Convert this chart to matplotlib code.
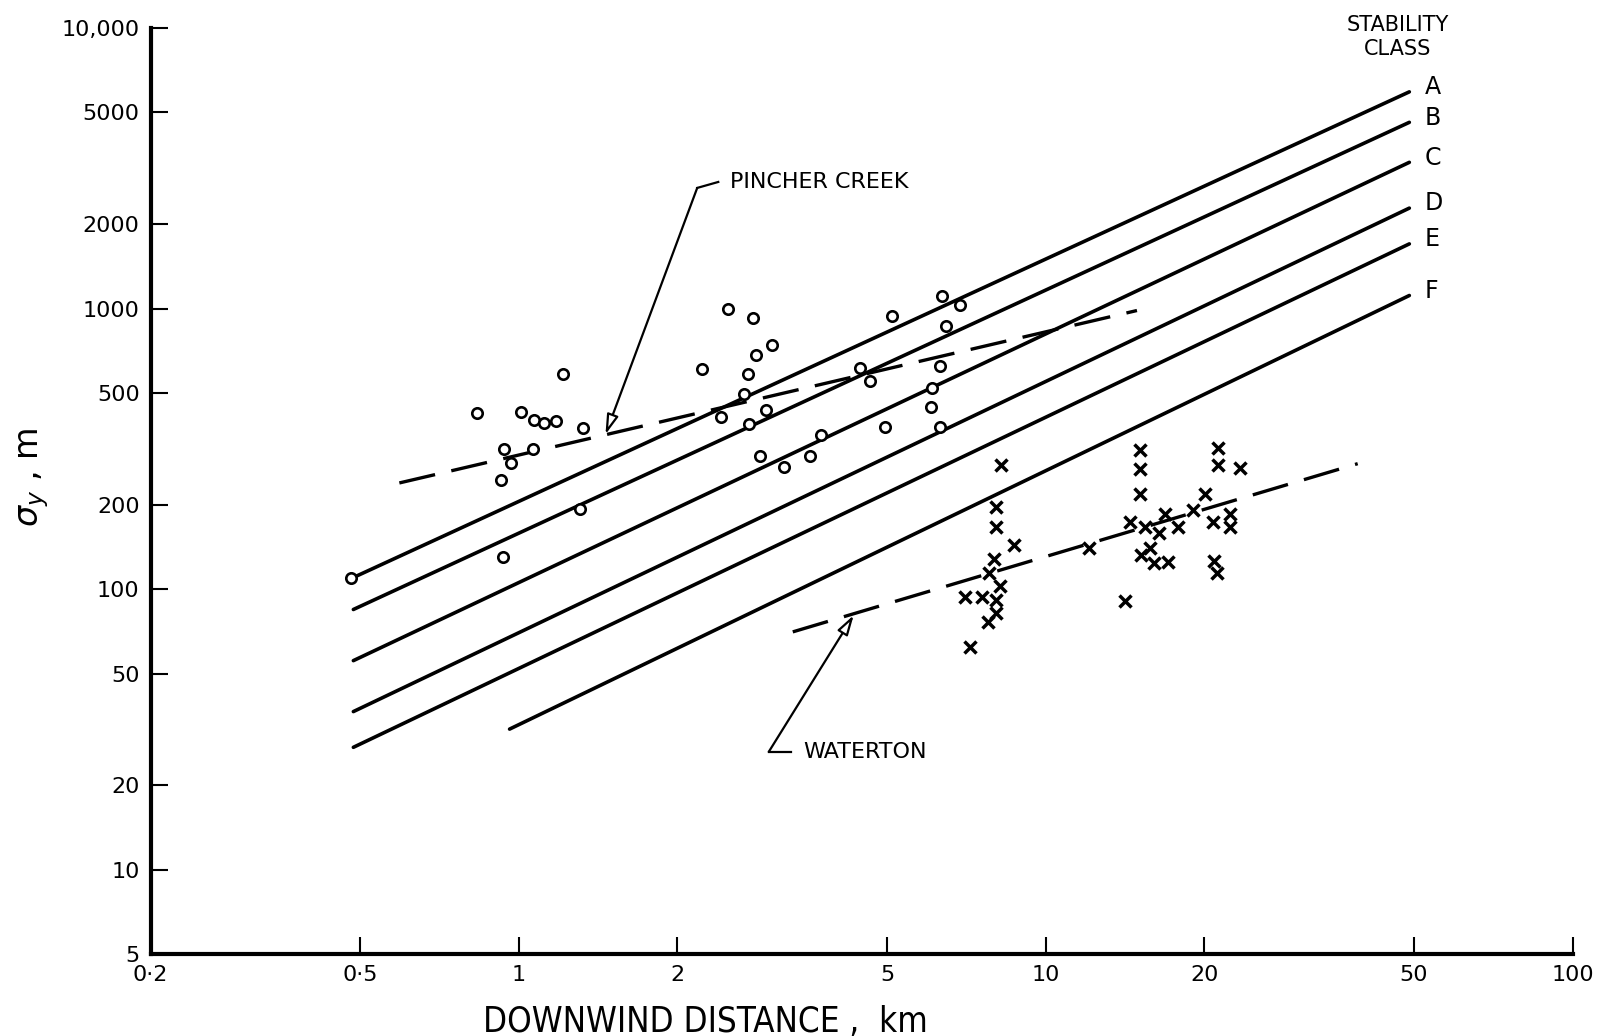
import matplotlib
matplotlib.use("Agg")
import matplotlib.pyplot as plt
import numpy as np

# stability class lines (Pasquill-Gifford sigma_y), end points
classes = ["A", "B", "C", "D", "E", "F"]
class_x0 = [0.485, 0.485, 0.485, 0.485, 0.485, 0.96]
class_y0 = [110, 84.6, 55.6, 36.6, 27.3, 31.7]
class_x1 = [49, 49, 49, 49, 49, 49]
class_y1 = [5920, 4610, 3320, 2280, 1700, 1113]

# Pincher Creek observations (circles)
pincher_x = [0.481, 0.831, 1.01, 1.07, 1.117, 1.178, 1.212, 1.325, 0.937, 1.065,
             0.967, 0.923, 1.305, 0.931, 2.493, 2.786, 3.026, 2.818, 2.222, 2.725,
             2.677, 2.417, 2.951, 2.729, 2.871, 3.179, 3.573, 3.737, 4.45, 4.643,
             5.104, 4.949, 6.368, 6.889, 6.471, 6.31, 6.05, 6.07, 6.29]
pincher_y = [110, 426, 428, 402, 390, 398, 585, 374, 317, 315,
             282, 245, 193, 130, 993, 925, 743, 681, 609, 585,
             494, 409, 436, 389, 297, 272, 299, 354, 614, 554,
             937, 379, 1108, 1031, 866, 622, 445, 520, 377]
pincher_fit_x = [0.593, 14.9]
pincher_fit_y = [239, 984]

# Waterton observations (crosses)
waterton_x = [8.23, 8.03, 8.03, 8.72, 7.99, 7.8, 8.2, 7.04, 7.57, 8.05, 8.05, 7.78, 7.17,
              12.07, 15.12, 15.1, 15.12, 14.44, 15.41, 16.87, 16.43, 17.83, 19.04, 20.1,
              15.19, 15.8, 16.08, 17.04, 14.11, 21.24, 21.24, 23.4, 20.75, 22.4, 22.4,
              20.9, 21.15]
waterton_y = [277, 196, 166, 144, 128, 114, 103, 93.6, 93.6, 91.1, 82.1, 76.2, 62,
              140, 313, 269, 219, 174, 167, 186, 159, 166, 192, 219,
              132, 140, 124, 125, 90.8, 319, 277, 271, 173, 186, 167,
              126, 114]
waterton_fit_x = [3.31, 39.1]
waterton_fit_y = [70.4, 280]

xticks = [0.2, 0.5, 1, 2, 5, 10, 20, 50, 100]
xticklabels = ["0·2", "0·5", "1", "2", "5", "10", "20", "50", "100"]
yticks = [5, 10, 20, 50, 100, 200, 500, 1000, 2000, 5000, 10000]
yticklabels = ["5", "10", "20", "50", "100", "200", "500", "1000", "2000", "5000", "10,000"]

fig = plt.figure(figsize=(16.03, 10.36), dpi=100)
ax = fig.add_axes([0.094, 0.079, 0.887, 0.894])
ax.set_xscale("log")
ax.set_yscale("log")
ax.set_xlim(0.2, 100)
ax.set_ylim(5, 10000)

for name, x0, y0, x1, y1 in zip(classes, class_x0, class_y0, class_x1, class_y1):
    ax.plot([x0, x1], [y0, y1], color="black", lw=2.6, solid_capstyle="round")
    ax.text(x1 * 1.07, y1 * 1.04, name, fontsize=17, ha="left", va="center")

dash = (0, (11, 5))
ax.plot(pincher_fit_x, pincher_fit_y, color="black", lw=2.4, linestyle=dash)
ax.plot(waterton_fit_x, waterton_fit_y, color="black", lw=2.4, linestyle=dash)

ax.plot(pincher_x, pincher_y, linestyle="none", marker="o", ms=7.5,
        mfc="white", mec="black", mew=1.9)
ax.plot(waterton_x, waterton_y, linestyle="none", marker="x", ms=8,
        color="black", mew=2.5)

# leaders
arrow = dict(arrowstyle="-|>,head_length=1.2,head_width=0.35", fc="white",
             ec="black", lw=1.6, shrinkA=0, shrinkB=0)
ax.plot([2.39, 2.18], [2826, 2691], color="black", lw=1.6)
ax.annotate("", xy=(1.46, 356), xytext=(2.18, 2691), arrowprops=arrow)
ax.text(2.52, 2826, "PINCHER CREEK", fontsize=16, ha="left", va="center")

ax.plot([3.28, 2.98], [26.3, 26.3], color="black", lw=1.6)
ax.annotate("", xy=(4.32, 80.7), xytext=(2.98, 26.3), arrowprops=arrow)
ax.text(3.47, 26.2, "WATERTON", fontsize=16, ha="left", va="center")

ax.text(46.6, 9300, "STABILITY\nCLASS", fontsize=15, ha="center", va="center",
        linespacing=1.25)

ax.spines["top"].set_visible(False)
ax.spines["right"].set_visible(False)
ax.spines["left"].set_linewidth(3)
ax.spines["bottom"].set_linewidth(3)

ax.set_xticks(xticks)
ax.set_xticklabels(xticklabels)
ax.set_yticks(yticks)
ax.set_yticklabels(yticklabels)
ax.minorticks_off()
ax.tick_params(direction="in", length=12, width=1.5, labelsize=16, pad=8)

ax.set_xlabel("DOWNWIND DISTANCE ,  km", fontsize=25, fontstretch="condensed")
ax.xaxis.set_label_coords(0.39, -0.055)
ax.set_ylabel(r"$\sigma_y$ , m", fontsize=24)
ax.yaxis.set_label_coords(-0.07, 0.515)

fig.savefig("out.png", dpi=100)
